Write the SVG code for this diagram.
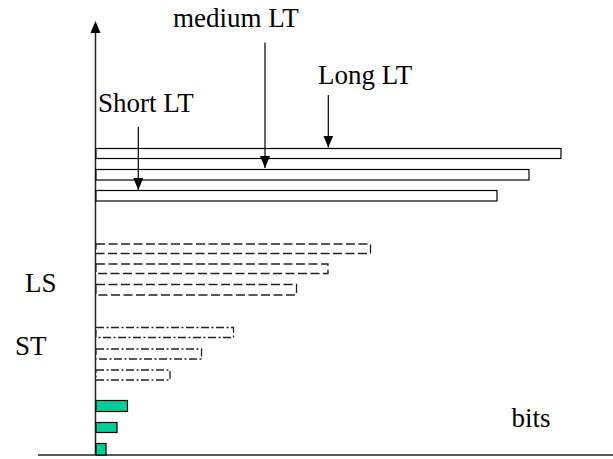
<svg xmlns="http://www.w3.org/2000/svg" width="613" height="459" viewBox="0 0 613 459">
<style>
text{font-family:"Liberation Serif","Times New Roman",Times,"DejaVu Serif",serif;font-size:27px;fill:#000}
.axis{stroke:#222;stroke-width:1.5;fill:none}
.lt{fill:#fff;stroke:#000;stroke-width:1.2}
.ls{fill:#fff;stroke:#222;stroke-width:1.3;stroke-dasharray:9 3.5}
.st{fill:#fff;stroke:#222;stroke-width:1.3;stroke-dasharray:8 2.5 2 2.5}
.bit{fill:#00CC99;stroke:#000;stroke-width:1.2}
.arr{stroke:#000;stroke-width:1.2;fill:none;marker-end:url(#ah)}
</style>
<defs>
<marker id="ah" viewBox="0 0 12 10" refX="12" refY="5" markerWidth="12" markerHeight="10" markerUnits="userSpaceOnUse" orient="auto">
<path d="M0,0 L12,5 L0,10 Z" fill="#000"/>
</marker>
</defs>
<g id="axes">
<line class="axis" x1="95.5" y1="455" x2="95.5" y2="32"/>
<path d="M90.5,33 L100.5,33 L95.5,21 Z" fill="#000"/>
<line class="axis" x1="38" y1="455" x2="613" y2="455"/>
</g>
<g id="long-term">
<rect class="lt" x="96" y="148.5" width="465" height="10"/>
<rect class="lt" x="96" y="169.5" width="433" height="10.5"/>
<rect class="lt" x="96" y="190.5" width="401" height="10.5"/>
</g>
<g id="long-short">
<rect class="ls" x="96" y="244" width="274.5" height="9.5"/>
<rect class="ls" x="96" y="264" width="232" height="9.5"/>
<rect class="ls" x="96" y="284.5" width="200.5" height="10.5"/>
</g>
<g id="short-term">
<rect class="st" x="96" y="327.5" width="137.5" height="10"/>
<rect class="st" x="96" y="349" width="105.5" height="10"/>
<rect class="st" x="96" y="370" width="74" height="10"/>
</g>
<g id="bits">
<rect class="bit" x="96" y="400.5" width="31.5" height="11"/>
<rect class="bit" x="96" y="422.5" width="21" height="10"/>
<rect class="bit" x="96" y="443.5" width="10" height="11.5"/>
</g>
<g id="labels">
<text x="173" y="27">medium LT</text>
<text x="318" y="84">Long LT</text>
<text x="98" y="111.5">Short LT</text>
<text x="25" y="291.5">LS</text>
<text x="15" y="355">ST</text>
<text x="511.5" y="427">bits</text>
</g>
<g id="connectors">
<path class="arr" d="M265,42.5 L265,168"/>
<path class="arr" d="M328.3,95 L328.3,147.5"/>
<path class="arr" d="M138.3,127 L138.3,190"/>
</g>
</svg>
